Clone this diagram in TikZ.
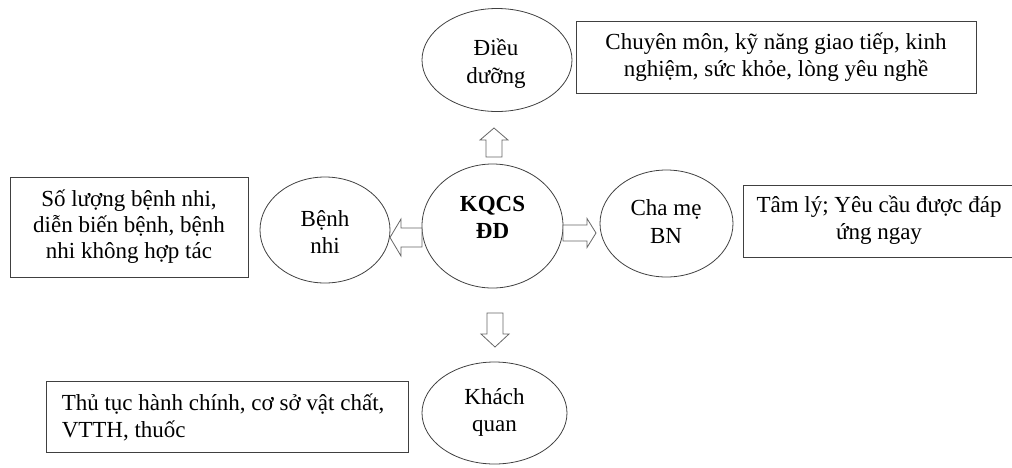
\documentclass[tikz,border=0pt]{standalone}
\usepackage{fontspec}
\setmainfont{Liberation Serif}
\usetikzlibrary{shapes.geometric}
\definecolor{edge}{HTML}{404040}
\tikzset{
  oval/.style={draw=edge, line width=0.8pt, ellipse, inner sep=0pt},
  infobox/.style={draw=edge, line width=0.9pt, inner sep=0pt},
  txt/.style={align=center, inner sep=0pt, font=\fontsize{23}{27.5}\selectfont},
  blockarrow/.style={draw=edge!80, line width=0.8pt, fill=white, line join=miter}
}
\begin{document}
\begin{tikzpicture}[x=1pt, y=-1pt]
\useasboundingbox (0,0) rectangle (1012,467);

% ellipses
\node[oval, minimum width=150, minimum height=103] (dd) at (497,60) {};
\node[oval, minimum width=141, minimum height=124] (kq) at (492.5,226) {};
\node[oval, minimum width=130, minimum height=106] (bn) at (325,230) {};
\node[oval, minimum width=133, minimum height=107] (cm) at (666.5,223.5) {};
\node[oval, minimum width=145, minimum height=102] (kh) at (494.5,413) {};

% ellipse labels
\node[txt] (ddt) at (496,63.5) {Điều\\dưỡng};
\node[txt, font=\fontsize{23}{26.5}\selectfont\bfseries] (kqt) at (492.5,217.5) {KQCS\\ĐD};
\node[txt] (bnt) at (325,232) {Bệnh\\nhi};
\node[txt] (cmt) at (666,221.5) {Cha mẹ\\BN};
\node[txt] (kht) at (494.5,412.5) {Khách\\quan};

% boxes
\node[infobox, minimum width=400, minimum height=72] (b1) at (776,57) {};
\node[txt] at (b1.center) {Chuyên môn, kỹ năng giao tiếp, kinh\\nghiệm, sức khỏe, lòng yêu nghề};
\node[infobox, minimum width=238, minimum height=100] (b2) at (129,227) {};
\node[txt, font=\fontsize{23}{26}\selectfont] at (b2.center) {Số lượng bệnh nhi,\\diễn biến bệnh, bệnh\\nhi không hợp tác};
\node[infobox, minimum width=274, minimum height=72] (b3) at (880,221) {};
\node[txt] at (879,220) {Tâm lý; Yêu cầu được đáp\\ứng ngay};
\node[infobox, minimum width=362, minimum height=71] (b4) at (227,416.5) {};
\node[txt, align=left, anchor=west] at ([xshift=16,yshift=-1]b4.west) {Thủ tục hành chính, cơ sở vật chất,\\VTTH, thuốc};

% block arrows pointing out of the centre
\draw[blockarrow] (486,157) -- (486,140) -- (480,140) -- (494,128) -- (508,140) -- (502,140) -- (502,157) -- cycle;
\draw[blockarrow] (487,313) -- (487,334) -- (481,334) -- (495,347) -- (509,334) -- (503,334) -- (503,313) -- cycle;
\draw[blockarrow] (422,228) -- (401,228) -- (401,219) -- (390,237.5) -- (401,256) -- (401,247) -- (422,247) -- cycle;
\draw[blockarrow] (563,225) -- (587,225) -- (587,218.5) -- (596,233) -- (587,247.5) -- (587,241) -- (563,241) -- cycle;
\end{tikzpicture}
\end{document}
